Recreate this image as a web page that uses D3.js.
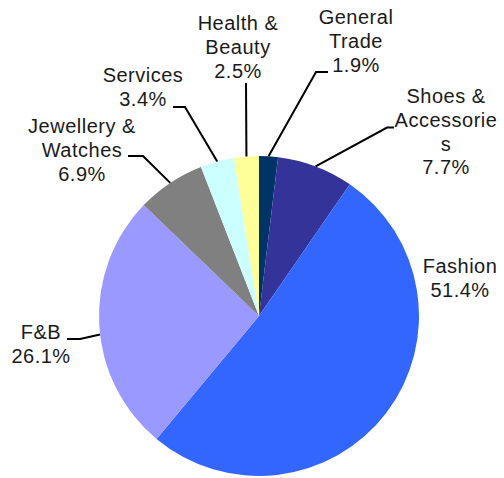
<!DOCTYPE html>
<html>
<head>
<meta charset="utf-8">
<script src="https://cdn.jsdelivr.net/npm/d3@7"></script>
<style>
  html, body { margin: 0; padding: 0; background: #fff; }
  svg { display: block; }
  text { font-family: "Liberation Sans", Arial, sans-serif; font-size: 20px; fill: #1a1a1a; letter-spacing: 0.5px; }
</style>
</head>
<body>
<svg id="chart" width="504" height="478"></svg>
<script>
// Retail mix by trade category (share of total, %), clockwise from 12 o'clock
const categories = ["General Trade", "Shoes & Accessories", "Fashion", "F&B",
                    "Jewellery & Watches", "Services", "Health & Beauty"];
const shares = [1.9, 7.7, 51.4, 26.1, 6.9, 3.4, 2.5];
const colors = ["#003366", "#333399", "#3366FF", "#9999FF", "#808080", "#CCFFFF", "#FFFF99"];

// Label placement: wrapped name lines, text centre x, first baseline y,
// and the elbow points of each leader line (the line then runs to the slice edge)
const labelLayout = [
  { lines: ["General", "Trade"],               x: 356, y: 24,  elbow: [[328, 72], [316, 72]] },
  { lines: ["Shoes &", "Accessorie", "s"],     x: 446, y: 103, elbow: [[394, 127.5], [387, 127.5]] },
  { lines: ["Fashion"],                        x: 460, y: 273, elbow: [] },
  { lines: ["F&B"],                            x: 41,  y: 339, elbow: [[67, 339], [80, 339]], nudge: -3.5 },
  { lines: ["Jewellery &", "Watches"],         x: 82,  y: 133, elbow: [[128, 156], [143, 156]] },
  { lines: ["Services"],                       x: 143, y: 82,  elbow: [[173, 107], [185, 107]] },
  { lines: ["Health &", "Beauty"],             x: 238, y: 30,  elbow: [[246, 83]] }
];

const lineHeight = 23.8;
const cx = 259, cy = 316, R = 160;

const svg = d3.select("#chart");
const g = svg.append("g").attr("transform", `translate(${cx},${cy})`);

const data = categories.map((c, i) => ({ name: c, value: shares[i], color: colors[i], layout: labelLayout[i] }));

const pie = d3.pie().sort(null).value(d => d.value).startAngle(0).endAngle(2 * Math.PI);
const arcs = pie(data);

const arc = d3.arc().innerRadius(0).outerRadius(R);
const edge = d3.arc().innerRadius(R).outerRadius(R);

// Slices
g.selectAll("path.slice")
  .data(arcs)
  .join("path")
  .attr("class", "slice")
  .attr("d", arc)
  .attr("fill", d => d.data.color);

// Leader lines
const line = d3.line();
arcs.forEach(d => {
  const L = d.data.layout;
  if (!L.elbow.length) return;
  const nud = (L.nudge || 0) * Math.PI / 180;
  const mid = { startAngle: d.startAngle + nud, endAngle: d.endAngle + nud };
  const [ex, ey] = edge.centroid(mid);
  const pts = L.elbow.map(p => [p[0] - cx, p[1] - cy]).concat([[ex, ey]]);
  g.append("path")
    .attr("d", line(pts))
    .attr("fill", "none")
    .attr("stroke", "#000")
    .attr("stroke-width", 2);
});

// Labels
const fmt = d3.format(".1f");
arcs.forEach(d => {
  const L = d.data.layout;
  const lines = L.lines.concat([fmt(d.data.value) + "%"]);
  const t = svg.append("text")
    .attr("text-anchor", "middle")
    .attr("x", L.x)
    .attr("y", L.y);
  lines.forEach((s, i) => {
    t.append("tspan")
      .attr("x", L.x)
      .attr("y", L.y + i * lineHeight)
      .text(s);
  });
});
</script>
</body>
</html>
